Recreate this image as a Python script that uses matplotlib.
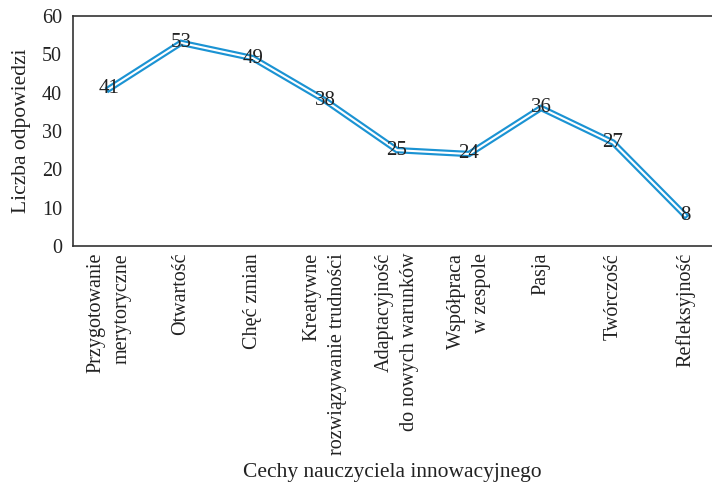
import matplotlib.pyplot as plt

# === DATA ===
categories = [
    "Przygotowanie\nmerytoryczne",
    "Otwartość",
    "Chęć zmian",
    "Kreatywne\nrozwiązywanie trudności",
    "Adaptacyjność\ndo nowych warunków",
    "Współpraca\nw zespole",
    "Pasja",
    "Twórczość",
    "Refleksyjność",
]
counts = [41, 53, 49, 38, 25, 24, 36, 27, 8]
y_ticks = [0, 10, 20, 30, 40, 50, 60]

plt.rcParams['font.family'] = ['Liberation Serif', 'DejaVu Serif']

# === PLOT ===
fig = plt.figure(figsize=(7.12, 4.90), dpi=100)
ax = fig.add_axes([73 / 712, 1 - 246 / 490, 648 / 712, 230 / 490])

x = list(range(len(categories)))
# double line: thick blue with a thin white core
ax.plot(x, counts, color='#1b93d3', lw=4.6, solid_joinstyle='miter', zorder=2)
ax.plot(x, counts, color='white', lw=1.5, solid_joinstyle='miter', zorder=3)

for xi, v in zip(x, counts):
    ax.text(xi, v, str(v), ha='center', va='center', fontsize=15,
            color='#222222', zorder=4)

ax.set_xlim(-0.5, 8.5)
ax.set_ylim(0, 60)
ax.set_yticks(y_ticks)
ax.tick_params(axis='y', labelsize=14.5, length=0, pad=8, colors='#222222')
ax.set_xticks(x)
ax.set_xticklabels(categories, rotation=90, fontsize=14.5, ha='center',
                   va='top', multialignment='right', linespacing=1.45,
                   color='#222222')
ax.tick_params(axis='x', length=0, pad=5)

for side in ['top', 'left', 'bottom', 'right']:
    ax.spines[side].set_color('#333333')
    ax.spines[side].set_linewidth(1.2)

ax.set_ylabel('Liczba odpowiedzi', fontsize=15.5, color='#222222', labelpad=8)
fig.text(392 / 712, 1 - 472 / 490, 'Cechy nauczyciela innowacyjnego',
         ha='center', va='center', fontsize=15.5, color='#222222')

plt.savefig('out.png', dpi=100)
